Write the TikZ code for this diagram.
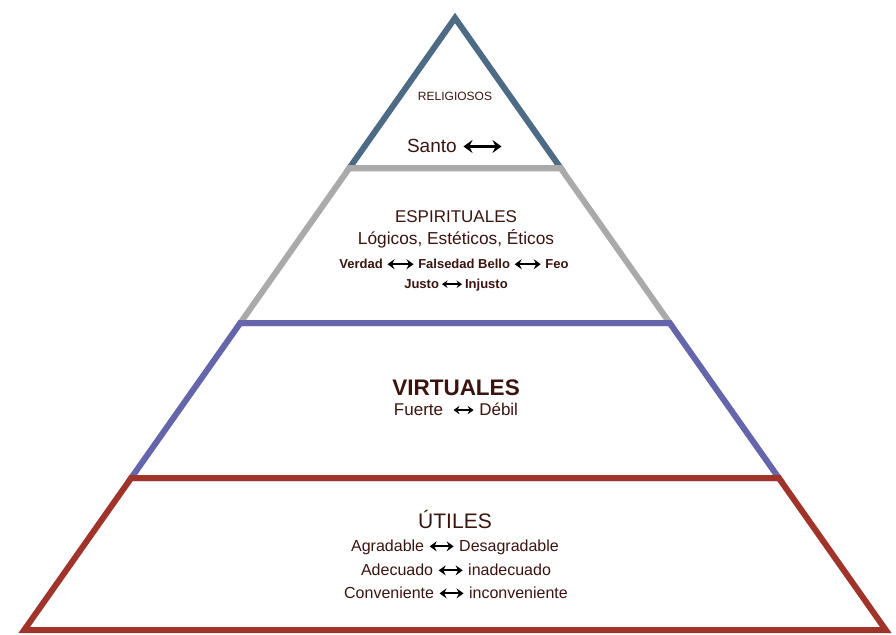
\documentclass[tikz,border=0pt]{standalone}
\usepackage{fontspec}
\setmainfont{Liberation Sans}
\usetikzlibrary{arrows.meta}
\definecolor{cslate}{HTML}{4E6B85}
\definecolor{cgray}{HTML}{AAAAAA}
\definecolor{cpurple}{HTML}{6565AB}
\definecolor{cred}{HTML}{A0342A}
\definecolor{txt}{HTML}{3A1510}
% #1 length, #2 line width, #3 head length, #4 head width
\newcommand\dbl[4]{\tikz[baseline=-0.55ex]\draw[black,line width=#2,{Stealth[length=#3,width=#4,inset=0.35*#3]}-{Stealth[length=#3,width=#4,inset=0.35*#3]}] (0pt,0pt) -- (#1,0pt);}
\newcommand\fs[1]{\fontsize{#1}{#1}\selectfont}
\begin{document}
\begin{tikzpicture}[x=1pt,y=-1pt,
  tier/.style={line width=6pt,line join=miter},
  lbl/.style={text=txt,inner sep=0pt,anchor=base}]
\useasboundingbox (0,0) rectangle (896,634);
\fill[white] (0,0) rectangle (896,634);
\coordinate (A) at (455,18);
\coordinate (L1) at (349.4,168); \coordinate (R1) at (560.6,168);
\coordinate (L2) at (240.3,323); \coordinate (R2) at (669.7,323);
\coordinate (L3) at (131.2,478); \coordinate (R3) at (778.8,478);
\coordinate (L4) at (24.2,630);  \coordinate (R4) at (885.8,630);
\draw[tier,cslate] (A) -- (R1) -- (L1) -- cycle;
\draw[tier,cgray] (L1) -- (R1) -- (R2) -- (L2) -- cycle;
\draw[tier,cpurple] (L2) -- (R2) -- (R3) -- (L3) -- cycle;
\draw[tier,cred] (L3) -- (R3) -- (R4) -- (L4) -- cycle;
% texts
\node[lbl,font=\fs{12}] (rel) at (455,100) {RELIGIOSOS};
\node[lbl,font=\fs{19}] (santo) at (455,152) {Santo \dbl{38pt}{3pt}{9pt}{13pt}};
\node[lbl,font=\fs{17}] (esp) at (456,222) {ESPIRITUALES};
\node[lbl,font=\fs{17.3}] (log) at (456,244) {Lógicos, Estéticos, Éticos};
\node[lbl,font=\bfseries\fs{13}] (ver) at (454,268) {Verdad \dbl{26pt}{2.2pt}{7pt}{10pt} Falsedad Bello \dbl{26pt}{2.2pt}{7pt}{10pt} Feo};
\node[lbl,font=\bfseries\fs{13}] (jus) at (456,288) {Justo\,\dbl{20pt}{1.8pt}{5.5pt}{7.5pt}\,Injusto};
\node[lbl,font=\bfseries\fs{22.5}] (vir) at (456,395) {VIRTUALES};
\node[lbl,font=\fs{17}] (fue) at (456,415) {Fuerte \ \dbl{20pt}{2pt}{6pt}{8.5pt} Débil};
\node[lbl,font=\fs{21}] (uti) at (455,528) {ÚTILES};
\node[lbl,font=\fs{16}] (agr) at (455,551) {Agradable \dbl{24pt}{2.2pt}{7pt}{10pt} Desagradable};
\node[lbl,font=\fs{16}] (ade) at (456,575) {Adecuado \dbl{24pt}{2.2pt}{7pt}{10pt} inadecuado};
\node[lbl,font=\fs{16}] (con) at (456,598) {Conveniente \dbl{24pt}{2.2pt}{7pt}{10pt} inconveniente};
\end{tikzpicture}
\end{document}
